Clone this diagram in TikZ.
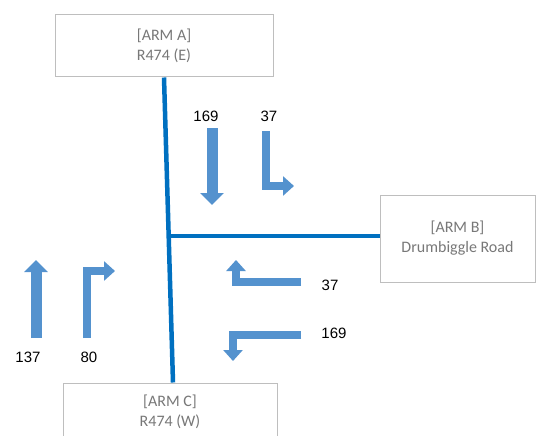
\documentclass[tikz,border=0pt]{standalone}
\usepackage{fontspec}
\setmainfont{Liberation Sans}
\newfontfamily\boxfont{Carlito}
\usetikzlibrary{arrows.meta,positioning}
\definecolor{RoadBlue}{RGB}{0,112,192}
\definecolor{FlowBlue}{RGB}{84,146,206}
\definecolor{BoxGray}{RGB}{190,190,190}
\definecolor{LabelGray}{RGB}{120,120,120}
\tikzset{
  armbox/.style={draw=BoxGray,line width=1pt,fill=white,align=center,font=\boxfont\fontsize{16}{20}\selectfont,text=LabelGray},
  road/.style={draw=RoadBlue,line width=4.5pt},
  countlabel/.style={font=\fontsize{15}{18}\selectfont,inner sep=0pt},
  straightflow/.style={draw=FlowBlue,line width=11pt,-{Triangle[width=23pt,length=12pt]}},
  turnflow/.style={draw=FlowBlue,line width=8.5pt,-{Triangle[width=19pt,length=11pt]}}
}

\begin{document}
\begin{tikzpicture}[x=1pt,y=-1pt]
\useasboundingbox (0,0) rectangle (536,436);
\clip (0,0) rectangle (536,436);

% arms
\node[armbox,minimum width=218pt,minimum height=62pt] (armA) at (164,46) {[ARM A]\\R474 (E)};
\node[armbox,minimum width=155pt,minimum height=87pt] (armB) at (457.5,238.5) {[ARM B]\\Drumbiggle Road};
\node[armbox,minimum width=214pt,minimum height=58pt] (armC) at (170,412) {[ARM C]\\R474 (W)};

% road
\draw[road] (armA.south) -- ([xshift=3pt]armC.north);
\coordinate (jn) at (170,236);
\draw[road] (jn) -- (jn -| armB.west);

% flows from arm A
\coordinate (a1s) at (212,128);
\coordinate (a1e) at (212,205);
\coordinate (a2s) at (266,131);
\coordinate (a2e) at (294,186);
\draw[straightflow] (a1s) -- (a1e);
\draw[turnflow] (a2s) |- (a2e);
\node[countlabel] (na1) at (206,116) {169};
\node[countlabel] (na2) at (269,116) {37};

% flows from arm B
\coordinate (b1s) at (301,282);
\coordinate (b1e) at (236,260);
\coordinate (b2s) at (301,335);
\coordinate (b2e) at (233,361);
\draw[turnflow] (b1s) -| (b1e);
\draw[turnflow] (b2s) -| (b2e);
\node[countlabel] (nb1) at (330,285) {37};
\node[countlabel] (nb2) at (334,333) {169};

% flows from arm C
\coordinate (c1s) at (36,338);
\coordinate (c1e) at (36,260);
\coordinate (c2s) at (87,338);
\coordinate (c2e) at (115,271);
\draw[straightflow] (c1s) -- (c1e);
\draw[turnflow] (c2s) |- (c2e);
\node[countlabel] (nc1) at (28,357) {137};
\node[countlabel] (nc2) at (89,357) {80};
\end{tikzpicture}
\end{document}
